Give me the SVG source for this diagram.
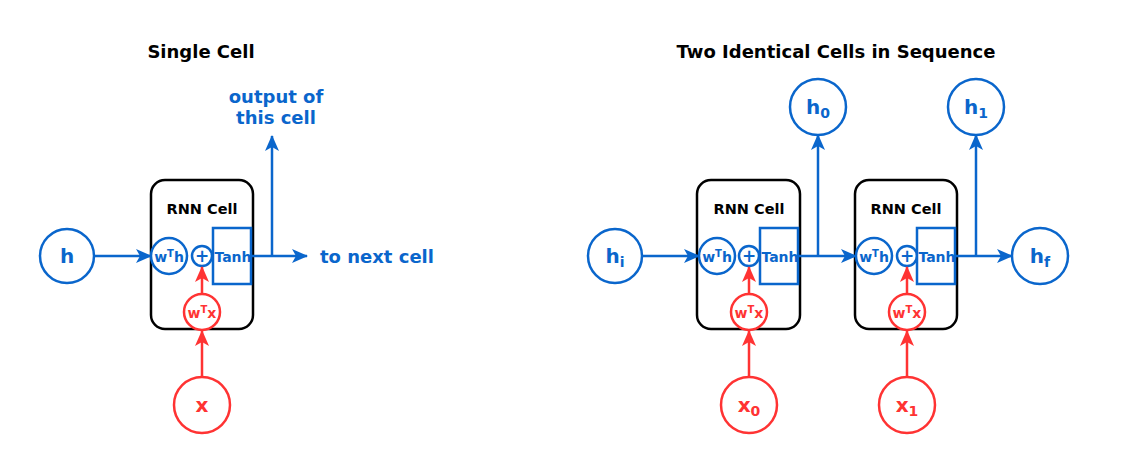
<svg xmlns="http://www.w3.org/2000/svg" width="1147" height="467" viewBox="0 0 1147 467">
<style>
text{font-family:"DejaVu Sans","Verdana",sans-serif;font-weight:bold;text-anchor:middle}
.title{font-size:18px;fill:#000}
.rd{fill:#fff;stroke:#ff3333;stroke-width:2.5}
.bc{fill:#fff;stroke:#0a66cc;stroke-width:2.5}
.box{fill:none;stroke:#000;stroke-width:2.5}
.tb{fill:#0a66cc}
.tr{fill:#ff3333}
.big{font-size:20px}
.sm{font-size:14px}
.lbl{font-size:18px}
.cl{font-size:14.5px;fill:#000}
.lb{stroke:#0a66cc;stroke-width:2.5;fill:none}
.lr{stroke:#ff3333;stroke-width:2.5;fill:none}
</style>
<defs>
<marker id="ab" markerUnits="userSpaceOnUse" markerWidth="16" markerHeight="14" refX="15" refY="7" orient="auto"><path d="M0,0 L16,7 L0,14 L4,7 z" fill="#0a66cc"/></marker>
<marker id="ar" markerUnits="userSpaceOnUse" markerWidth="16" markerHeight="14" refX="15" refY="7" orient="auto"><path d="M0,0 L16,7 L0,14 L4,7 z" fill="#ff3333"/></marker>
</defs>
<rect width="1147" height="467" fill="#fff"/>
<text class="title" x="201" y="58">Single Cell</text>
<text class="title" x="836" y="58">Two Identical Cells in Sequence</text>

<g id="label-output"><text class="lbl tb" x="276" y="103">output of</text><text class="lbl tb" x="276" y="124">this cell</text></g>
<g id="label-next"><text class="lbl tb" x="320" y="263" style="text-anchor:start">to next cell</text></g>

<g id="h"><circle class="bc" cx="67" cy="256" r="27"/><text class="big tb" x="67" y="263">h</text></g>
<g id="cell"><rect class="box" x="151" y="180" width="102" height="149" rx="14"/><text class="cl" x="202" y="214">RNN Cell</text>
<circle class="bc" cx="169" cy="256" r="18"/><text class="sm tb" x="169" y="262">w<tspan font-size="10" dy="-5">T</tspan><tspan dy="5">h</tspan></text>
<circle class="bc" cx="202" cy="256" r="10"/><text class="tb" font-size="17" x="202" y="262">+</text>
<rect class="bc" x="213" y="228" width="38" height="56"/><text class="sm tb" x="233" y="262">Tanh</text>
<circle class="rd" cx="202" cy="312" r="18"/><text class="sm tr" x="202" y="318">w<tspan font-size="10" dy="-5">T</tspan><tspan dy="5">x</tspan></text></g>
<g id="x"><circle class="rd" cx="202" cy="405" r="28"/><text class="big tr" x="202" y="412">x</text></g>

<g id="hi"><circle class="bc" cx="615" cy="256" r="27"/><text class="big tb" x="615" y="263">h<tspan font-size="14" dy="4">i</tspan></text></g>
<g id="cell1"><rect class="box" x="697" y="180" width="103" height="149" rx="14"/><text class="cl" x="749" y="214">RNN Cell</text>
<circle class="bc" cx="717" cy="256" r="18"/><text class="sm tb" x="717" y="262">w<tspan font-size="10" dy="-5">T</tspan><tspan dy="5">h</tspan></text>
<circle class="bc" cx="749" cy="256" r="10"/><text class="tb" font-size="17" x="749" y="262">+</text>
<rect class="bc" x="760" y="228" width="38" height="56"/><text class="sm tb" x="780" y="262">Tanh</text>
<circle class="rd" cx="749" cy="312" r="18"/><text class="sm tr" x="749" y="318">w<tspan font-size="10" dy="-5">T</tspan><tspan dy="5">x</tspan></text></g>
<g id="x0"><circle class="rd" cx="749" cy="405" r="28"/><text class="big tr" x="749" y="412">x<tspan font-size="14" dy="4">0</tspan></text></g>
<g id="h0"><circle class="bc" cx="818" cy="107" r="28"/><text class="big tb" x="818" y="114">h<tspan font-size="14" dy="4">0</tspan></text></g>

<g id="cell2"><rect class="box" x="855" y="180" width="102" height="149" rx="14"/><text class="cl" x="906" y="214">RNN Cell</text>
<circle class="bc" cx="874" cy="256" r="18"/><text class="sm tb" x="874" y="262">w<tspan font-size="10" dy="-5">T</tspan><tspan dy="5">h</tspan></text>
<circle class="bc" cx="907" cy="256" r="10"/><text class="tb" font-size="17" x="907" y="262">+</text>
<rect class="bc" x="917" y="228" width="38" height="56"/><text class="sm tb" x="937" y="262">Tanh</text>
<circle class="rd" cx="907" cy="312" r="18"/><text class="sm tr" x="907" y="318">w<tspan font-size="10" dy="-5">T</tspan><tspan dy="5">x</tspan></text></g>
<g id="x1"><circle class="rd" cx="907" cy="405" r="28"/><text class="big tr" x="907" y="412">x<tspan font-size="14" dy="4">1</tspan></text></g>
<g id="h1"><circle class="bc" cx="976" cy="107" r="28"/><text class="big tb" x="976" y="114">h<tspan font-size="14" dy="4">1</tspan></text></g>
<g id="hf"><circle class="bc" cx="1040" cy="256" r="28"/><text class="big tb" x="1040" y="263">h<tspan font-size="14" dy="4">f</tspan></text></g>

<g id="connectors">
<line class="lb" x1="94" y1="256" x2="151" y2="256" marker-end="url(#ab)"/>
<line class="lb" x1="251" y1="256" x2="307" y2="256" marker-end="url(#ab)"/>
<line class="lb" x1="272" y1="256" x2="272" y2="136" marker-end="url(#ab)"/>
<line class="lr" x1="202" y1="294" x2="202" y2="267" marker-end="url(#ar)"/>
<line class="lr" x1="202" y1="377" x2="202" y2="331" marker-end="url(#ar)"/>

<line class="lb" x1="642" y1="256" x2="699" y2="256" marker-end="url(#ab)"/>
<line class="lb" x1="798" y1="256" x2="856" y2="256" marker-end="url(#ab)"/>
<line class="lb" x1="818" y1="256" x2="818" y2="135" marker-end="url(#ab)"/>
<line class="lr" x1="749" y1="294" x2="749" y2="267" marker-end="url(#ar)"/>
<line class="lr" x1="749" y1="377" x2="749" y2="331" marker-end="url(#ar)"/>

<line class="lb" x1="955" y1="256" x2="1012" y2="256" marker-end="url(#ab)"/>
<line class="lb" x1="976" y1="256" x2="976" y2="135" marker-end="url(#ab)"/>
<line class="lr" x1="907" y1="294" x2="907" y2="267" marker-end="url(#ar)"/>
<line class="lr" x1="907" y1="377" x2="907" y2="331" marker-end="url(#ar)"/>
</g>
</svg>
